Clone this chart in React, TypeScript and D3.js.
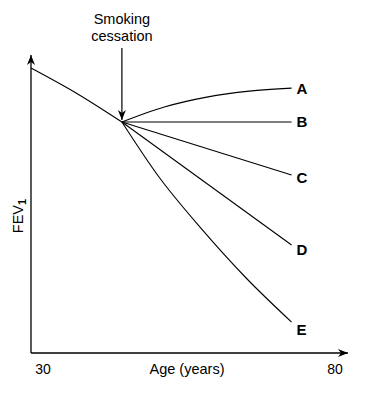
import React, { useEffect, useRef } from 'react';
import * as d3 from 'd3';

// Age / FEV1 readings taken from the reference figure (FEV1 in arbitrary units)
const preAges = [30, 37.5, 45];
const preFev = [95, 86.6, 77];

const seriesNames = ['A', 'B', 'C', 'D', 'E'];
const seriesAges = [
  [45, 52, 59, 66, 73],
  [45, 73],
  [45, 73],
  [45, 73],
  [45, 51, 58, 65.5, 73],
];
const seriesFev = [
  [77, 82, 85.3, 87.3, 88.3],
  [77, 77],
  [77, 59.3],
  [77, 36],
  [77, 59, 41.7, 25, 10.3],
];

const xTickLabels = ['30', '80'];
const cessationAge = 45;

const App = () => {
  const ref = useRef(null);

  useEffect(() => {
    if (!ref.current) return;
    const svg = d3.select(ref.current);
    svg.selectAll('*').remove();

    const width = 366;
    const height = 393;
    const font = 'Arial, "Liberation Sans", sans-serif';

    const x = d3.scaleLinear().domain([30, 80]).range([31, 334]);
    const y = d3.scaleLinear().domain([0, 100]).range([353, 53]);

    const x0 = 31;
    const y0 = 353;

    // arrow marker
    const defs = svg.append('defs');
    defs.append('marker')
      .attr('id', 'arrow')
      .attr('viewBox', '0 0 10 10')
      .attr('refX', 10)
      .attr('refY', 5)
      .attr('markerWidth', 10)
      .attr('markerHeight', 10)
      .attr('markerUnits', 'userSpaceOnUse')
      .attr('orient', 'auto')
      .append('path')
      .attr('d', 'M0,1 L10,5 L0,9 L3,5 Z')
      .attr('fill', '#000');

    // axes
    svg.append('line')
      .attr('x1', x0).attr('y1', y0)
      .attr('x2', x0).attr('y2', 55)
      .attr('stroke', '#000').attr('stroke-width', 1.3)
      .attr('marker-end', 'url(#arrow)');
    svg.append('line')
      .attr('x1', x0).attr('y1', y0)
      .attr('x2', 348).attr('y2', y0)
      .attr('stroke', '#000').attr('stroke-width', 1.3)
      .attr('marker-end', 'url(#arrow)');

    const line = d3.line()
      .x(d => x(d[0]))
      .y(d => y(d[1]))
      .curve(d3.curveMonotoneX);

    // pre-cessation decline
    svg.append('path')
      .attr('d', line(preAges.map((a, i) => [a, preFev[i]])))
      .attr('fill', 'none')
      .attr('stroke', '#000')
      .attr('stroke-width', 1.1);

    // branches after cessation
    const labelNudge = [0, 0, 2, 5, 7];
    seriesNames.forEach((name, si) => {
      const pts = seriesAges[si].map((a, i) => [a, seriesFev[si][i]]);
      svg.append('path')
        .attr('d', line(pts))
        .attr('fill', 'none')
        .attr('stroke', '#000')
        .attr('stroke-width', 1.1);
      const last = pts[pts.length - 1];
      svg.append('text')
        .attr('x', x(last[0]) + 5)
        .attr('y', y(last[1]) + labelNudge[si])
        .attr('dy', '0.36em')
        .attr('font-family', font)
        .attr('font-size', 15)
        .attr('font-weight', 'bold')
        .text(name);
    });

    // cessation arrow
    const cx = x(cessationAge);
    svg.append('line')
      .attr('x1', cx).attr('y1', 48)
      .attr('x2', cx).attr('y2', y(preFev[preFev.length - 1]) - 2)
      .attr('stroke', '#000').attr('stroke-width', 1.2)
      .attr('marker-end', 'url(#arrow)');
    svg.append('text')
      .attr('x', cx).attr('y', 23.5)
      .attr('text-anchor', 'middle')
      .attr('font-family', font).attr('font-size', 14.5)
      .text('Smoking');
    svg.append('text')
      .attr('x', cx).attr('y', 41)
      .attr('text-anchor', 'middle')
      .attr('font-family', font).attr('font-size', 14.5)
      .text('cessation');

    // x labels
    svg.append('text')
      .attr('x', x(30) + 12).attr('y', 374)
      .attr('text-anchor', 'middle')
      .attr('font-family', font).attr('font-size', 14)
      .text(xTickLabels[0]);
    svg.append('text')
      .attr('x', x(80) + 1).attr('y', 374)
      .attr('text-anchor', 'middle')
      .attr('font-family', font).attr('font-size', 14)
      .text(xTickLabels[1]);
    svg.append('text')
      .attr('x', 187).attr('y', 374)
      .attr('text-anchor', 'middle')
      .attr('font-family', font).attr('font-size', 14.5)
      .text('Age (years)');

    // y label
    const yl = svg.append('text')
      .attr('transform', 'translate(23,216) rotate(-90)')
      .attr('text-anchor', 'middle')
      .attr('font-family', font).attr('font-size', 14.5);
    yl.append('tspan').text('FEV');
    yl.append('tspan')
      .attr('font-size', 11)
      .attr('font-weight', 'bold')
      .attr('dy', 3)
      .text('1');

    svg.attr('width', width).attr('height', height);
  }, []);

  return (
    <svg
      ref={ref}
      width={366}
      height={393}
      style={{ position: 'absolute', left: 0, top: 0, background: '#fff' }}
    />
  );
};

export default App;
